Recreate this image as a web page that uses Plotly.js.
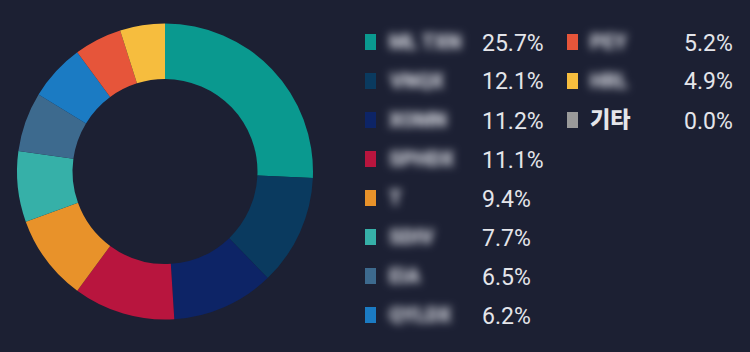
<!DOCTYPE html>
<html>
<head>
<meta charset="utf-8">
<script src="https://cdn.plot.ly/plotly-3.0.1.min.js"></script>
<style>
html,body{margin:0;padding:0;background:#1c2033;}
#chart{width:750px;height:352px;}
</style>
</head>
<body>
<div id="chart"></div>
<script>
var labels = ["ML TXN", "VNQX", "XOMN", "SPHDX", "T", "SDIV", "EIA", "QYLDX", "PEY", "HRL", "기타"];
var values = [25.7, 12.1, 11.2, 11.1, 9.4, 7.7, 6.5, 6.2, 5.2, 4.9, 0.0];
var colors = ["#0a998f", "#0a3a5f", "#0d2466", "#b8153e", "#e8922a", "#36b0a8", "#3d6a8e", "#1b7bc3", "#e6553a", "#f6bd3e", "#9a9a9a"];
var blurred = [true, true, true, true, true, true, true, true, true, true, false];

var W = 750, H = 352;
var annotations = [], shapes = [];
var rowY0 = 42, rowStep = 39, perCol = 8;
var colSq = [365, 567], colName = [387, 588], colPct = [480, 682];
for (var i = 0; i < labels.length; i++) {
  var c = Math.floor(i / perCol), r = i % perCol;
  var cy = rowY0 + r * rowStep;
  shapes.push({type: "rect", xref: "paper", yref: "paper",
    x0: colSq[c] / W, x1: (colSq[c] + 11) / W,
    y0: 1 - (cy + 8) / H, y1: 1 - (cy - 8) / H,
    fillcolor: colors[i], line: {width: 0}});
  annotations.push({xref: "paper", yref: "paper", x: colName[c] / W, y: 1 - cy / H,
    xanchor: "left", yanchor: "middle", showarrow: false, text: labels[i],
    font: {family: "Roboto, 'Noto Sans CJK KR', sans-serif", size: blurred[i] ? 20 : 22,
      color: blurred[i] ? "#d4d6de" : "#e4e5ea", weight: 900}});
  annotations.push({xref: "paper", yref: "paper", x: colPct[c] / W, y: 1 - (cy + 1) / H,
    xanchor: "left", yanchor: "middle", showarrow: false, text: values[i].toFixed(1) + "%",
    font: {family: "Roboto, sans-serif", size: 23, color: "#e4e5ea"}});
}

var cx = 165, cyc = 171.5, R = 148;
var data = [{
  type: "pie",
  labels: labels,
  values: values,
  sort: false,
  direction: "clockwise",
  rotation: 0,
  hole: 0.625,
  textinfo: "none",
  hoverinfo: "label+percent",
  marker: {colors: colors, line: {width: 0}},
  domain: {x: [(cx - R) / W, (cx + R) / W], y: [(H - cyc - R) / H, (H - cyc + R) / H]}
}];

var layout = {
  width: W, height: H,
  margin: {l: 0, r: 0, t: 0, b: 0},
  paper_bgcolor: "#1c2033",
  plot_bgcolor: "#1c2033",
  showlegend: false,
  shapes: shapes,
  annotations: annotations
};

Plotly.newPlot("chart", data, layout, {displayModeBar: false, staticPlot: true}).then(function (gd) {
  var svgs = gd.querySelectorAll("svg.main-svg");
  var ns = "http://www.w3.org/2000/svg";
  svgs.forEach(function (s) {
    var defs = s.querySelector("defs") || s.insertBefore(document.createElementNS(ns, "defs"), s.firstChild);
    if (!s.querySelector("#nameblur")) {
      var f = document.createElementNS(ns, "filter");
      f.setAttribute("id", "nameblur");
      f.setAttribute("x", "-30%"); f.setAttribute("y", "-80%");
      f.setAttribute("width", "160%"); f.setAttribute("height", "260%");
      var g = document.createElementNS(ns, "feGaussianBlur");
      g.setAttribute("stdDeviation", "4");
      f.appendChild(g);
      defs.appendChild(f);
    }
  });
  var anns = gd.querySelectorAll("g.annotation");
  anns.forEach(function (a) {
    var idx = parseInt(a.getAttribute("data-index"), 10);
    if (idx % 2 === 0 && blurred[idx / 2]) {
      a.setAttribute("filter", "url(#nameblur)");
    }
  });
});
</script>
</body>
</html>
